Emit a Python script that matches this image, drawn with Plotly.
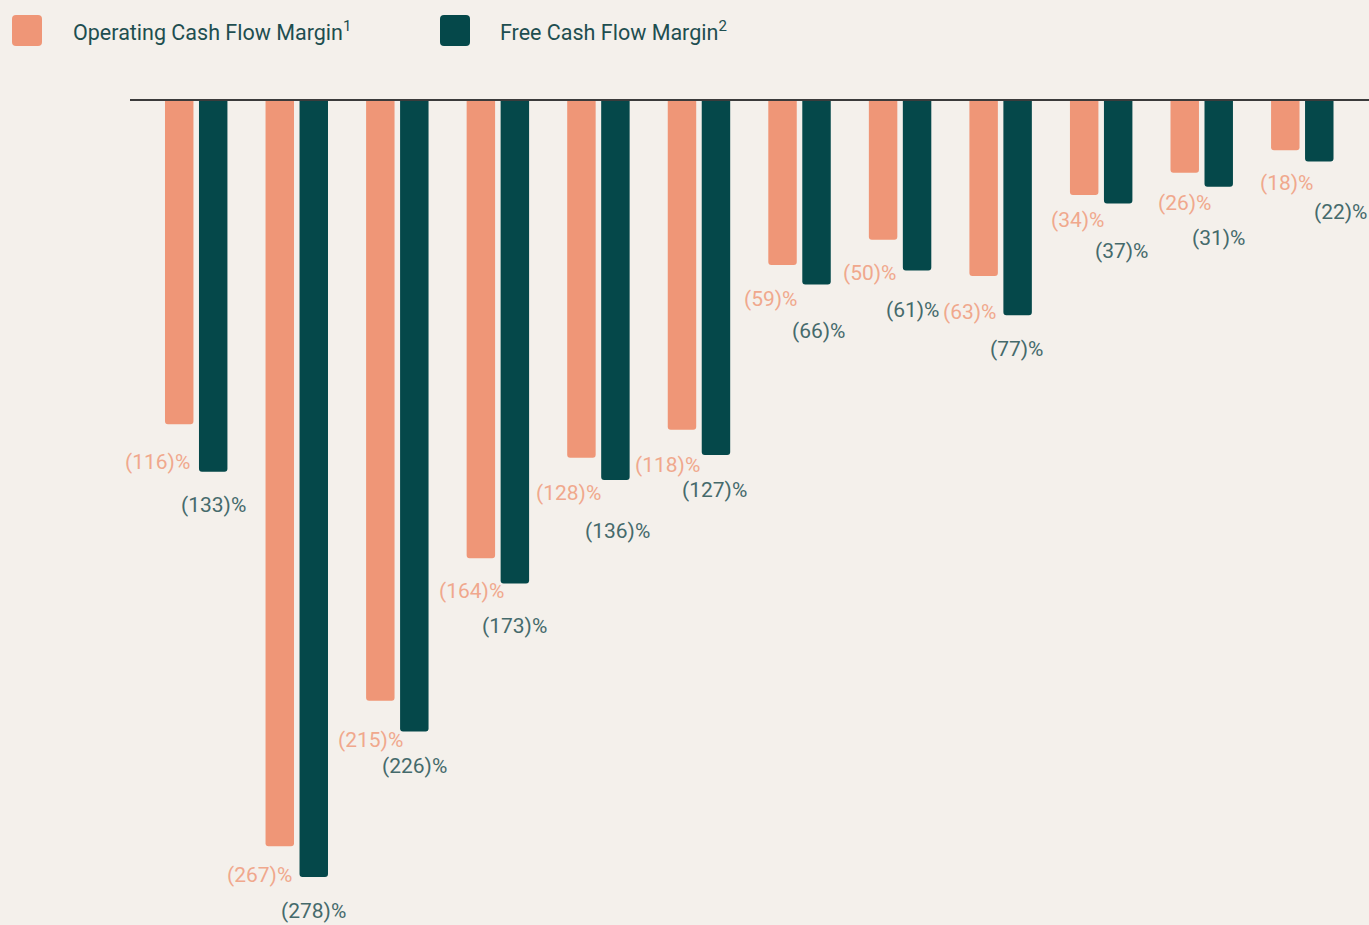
import plotly.graph_objects as go

# ---- data ----
groups = list(range(12))
ocf_margin = [-116, -267, -215, -164, -128, -118, -59, -50, -63, -34, -26, -18]
fcf_margin = [-133, -278, -226, -173, -136, -127, -66, -61, -77, -37, -31, -22]
series_names = ["Operating Cash Flow Margin<sup>1</sup>", "Free Cash Flow Margin<sup>2</sup>"]

# ---- style ----
BG = "#F4F0EB"
ORANGE = "#EF9677"
TEAL = "#05484A"
ORANGE_TXT = "#F0A88D"
TEAL_TXT = "#456A6B"
FONT = "Roboto"
BAR_W = 0.283
OFF_O = -0.308
OFF_T = 0.030

# label nudges in pixels (text placement only)
ocf_lbl_dx = [-1, 0, 10, 11, 7, 6, 2, 1, 0, 8, 14, 15]
ocf_lbl_dy = [38, 29, 39, 33, 35, 35, 34, 33, 36, 25, 30, 33]
fcf_lbl_dx = [0, 0, 0, 0, 2, -1, 2, -5, -1, 3, 0, 21]
fcf_lbl_dy = [33, 34, 34, 43, 51, 35, 47, 40, 34, 48, 51, 51]

fig = go.Figure()
fig.add_trace(go.Bar(x=groups, y=ocf_margin, width=BAR_W, offset=OFF_O,
                     marker=dict(color=ORANGE, cornerradius=3, line_width=0),
                     showlegend=False, hoverinfo="skip"))
fig.add_trace(go.Bar(x=groups, y=fcf_margin, width=BAR_W, offset=OFF_T,
                     marker=dict(color=TEAL, cornerradius=3, line_width=0),
                     showlegend=False, hoverinfo="skip"))

ann = []
for i, v in enumerate(ocf_margin):
    ann.append(dict(x=groups[i] + OFF_O + BAR_W, y=v, xref="x", yref="y",
                    text=f"({abs(v)})%", showarrow=False, xanchor="right",
                    yanchor="middle", xshift=ocf_lbl_dx[i], yshift=-ocf_lbl_dy[i],
                    font=dict(family=FONT, size=21, color=ORANGE_TXT)))
for i, v in enumerate(fcf_margin):
    ann.append(dict(x=groups[i] + OFF_T + BAR_W / 2, y=v, xref="x", yref="y",
                    text=f"({abs(v)})%", showarrow=False, xanchor="center",
                    yanchor="middle", xshift=fcf_lbl_dx[i], yshift=-fcf_lbl_dy[i],
                    font=dict(family=FONT, size=21, color=TEAL_TXT)))

# legend (manual) – pixel positions converted to paper coords
PL, PW, PT, PH = 130, 1239, 80, 845
def px(x):
    return (x - PL) / PW
def py(y):
    return (PH - (y - PT)) / PH

def rounded_rect(x0, y0, x1, y1, r):
    # path in paper coords, built from pixel corners
    X0, X1, Xr0, Xr1 = px(x0), px(x1), px(x0 + r), px(x1 - r)
    Y0, Y1, Yr0, Yr1 = py(y0), py(y1), py(y0 + r), py(y1 - r)
    return (f"M {Xr0} {Y0} L {Xr1} {Y0} Q {X1} {Y0} {X1} {Yr0} "
            f"L {X1} {Yr1} Q {X1} {Y1} {Xr1} {Y1} L {Xr0} {Y1} "
            f"Q {X0} {Y1} {X0} {Yr1} L {X0} {Yr0} Q {X0} {Y0} {Xr0} {Y0} Z")

legend_items = [(ORANGE, series_names[0], 12, 71), (TEAL, series_names[1], 440, 498)]
shapes = []
for col, name, sx, tx in legend_items:
    shapes.append(dict(type="path", xref="paper", yref="paper",
                       path=rounded_rect(sx, 15, sx + 30, 46, 4),
                       fillcolor=col, line_width=0, layer="above"))
    ann.append(dict(x=px(tx), y=py(31), xref="paper", yref="paper",
                    text=name, showarrow=False, xanchor="left", yanchor="middle",
                    font=dict(family=FONT, size=21.5, color="#1E4E50")))

shapes.append(dict(type="line", xref="paper", yref="y", x0=0, x1=1, y0=0, y1=0,
                   line=dict(color="#3B3B3B", width=2), layer="above"))

fig.update_layout(
    width=1369, height=925,
    paper_bgcolor=BG, plot_bgcolor=BG,
    margin=dict(l=PL, r=0, t=PT, b=0),
    barmode="overlay",
    xaxis=dict(range=[-0.656, 11.666], visible=False),
    yaxis=dict(range=[-295.2, 7.16], visible=False),
    annotations=ann, shapes=shapes,
    font=dict(family=FONT),
)

fig.write_html(
    "out.html",
    config={"displayModeBar": False},
    post_script="document.body.style.margin='0';document.body.style.background='#F4F0EB';document.body.style.overflow='hidden';",
)
